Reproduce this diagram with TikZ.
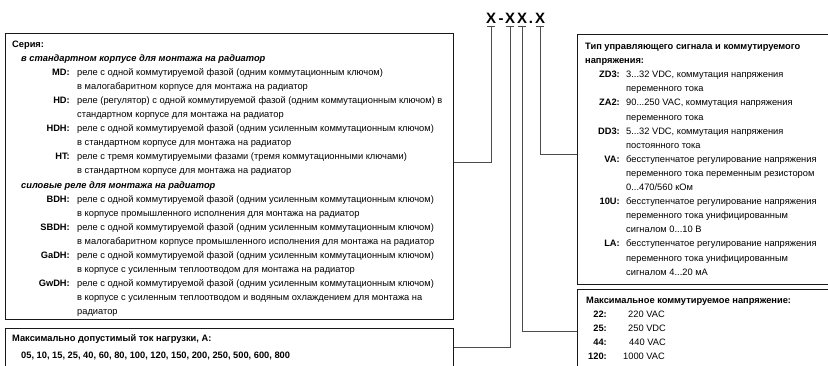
\documentclass[tikz,border=0pt]{standalone}
\usepackage{fontspec}
\setmainfont{Liberation Sans}
\begin{document}
\begin{tikzpicture}[x=1pt,y=-1pt,
  box/.style={draw=black!90, line width=0.9pt, rectangle, inner sep=0pt, anchor=north west},
  conn/.style={draw=black!70, line width=1pt},
  txt/.style={inner sep=0pt, anchor=base west, font=\fontsize{9.3}{11}\selectfont},
  lbl/.style={inner sep=0pt, anchor=base east, font=\bfseries\fontsize{9.3}{11}\selectfont},
  ttl/.style={inner sep=0pt, anchor=base west, font=\bfseries\fontsize{9.3}{11}\selectfont},
  sub/.style={inner sep=0pt, anchor=base west, font=\bfseries\itshape\fontsize{9.3}{11}\selectfont},
  code/.style={inner sep=0pt, anchor=base, font=\bfseries\fontsize{15}{17}\selectfont}]
\useasboundingbox (0,0) rectangle (828,365);

% boxes
\node[box, minimum width=448pt, minimum height=286pt] (serie) at (5,33) {};
\node[box, minimum width=448pt, minimum height=60pt] (load) at (5,328) {};
\node[box, minimum width=262pt, minimum height=250pt] (ctrl) at (577,34) {};
\node[box, minimum width=262pt, minimum height=90pt] (volt) at (577,289) {};

% code
\node[code] (x1) at (491,23) {X};
\node[code] (dsh) at (501,23) {-};
\node[code] (x2) at (510,23) {X};
\node[code] (x3) at (522,23) {X};
\node[code] (dt) at (531,23) {.};
\node[code] (x4) at (540,23) {X};

\coordinate (t1) at ([yshift=-3pt]x1.base);
\coordinate (t2) at ([yshift=-3pt]x2.base);
\coordinate (t3) at ([yshift=-3pt]x3.base);
\coordinate (t4) at ([yshift=-3pt]x4.base);
\foreach \t in {t1,t2,t3,t4} {\draw[conn] ([xshift=-4pt]\t) -- ([xshift=4pt]\t);}

\coordinate (k1) at (491,162);
\coordinate (k2) at (510,347);
\coordinate (k3) at (522,331);
\coordinate (k4) at (540,154);
\draw[conn] (t1) -- (k1) -- (k1 -| serie.east);
\draw[conn] (t2) -- (k2) -- (k2 -| load.east);
\draw[conn] (t3) -- (k3) -- (k3 -| volt.west);
\draw[conn] (t4) -- (k4) -- (k4 -| ctrl.west);

% left box 1
\node[ttl] (sT) at (12,47.5) {Серия:};
\node[sub] (s1) at (21,{47.5+14.05*1}) {в стандартном корпусе для монтажа на радиатор};
\node[sub] (s2) at (21,{47.5+14.05*10}) {силовые реле для монтажа на радиатор};
\foreach \i/\t in {2/MD:,4/HD:,6/HDH:,8/HT:,11/BDH:,13/SBDH:,15/GaDH:,17/GwDH:}
  {\node[lbl] (ll\i) at (70,{47.5+14.05*\i}) {\t};}
\foreach \i/\t in {
  2/{реле с одной коммутируемой фазой (одним коммутационным ключом)},
  3/{в малогабаритном корпусе для монтажа на радиатор},
  4/{реле (регулятор) с одной коммутируемой фазой (одним коммутационным ключом) в},
  5/{стандартном корпусе для монтажа на радиатор},
  6/{реле с одной коммутируемой фазой (одним усиленным коммутационным ключом)},
  7/{в стандартном корпусе для монтажа на радиатор},
  8/{реле с тремя коммутируемыми фазами (тремя коммутационными ключами)},
  9/{в стандартном корпусе для монтажа на радиатор},
  11/{реле с одной коммутируемой фазой (одним усиленным коммутационным ключом)},
  12/{в корпусе промышленного исполнения для монтажа на радиатор},
  13/{реле с одной коммутируемой фазой (одним усиленным коммутационным ключом)},
  14/{в малогабаритном корпусе промышленного исполнения для монтажа на радиатор},
  15/{реле с одной коммутируемой фазой (одним усиленным коммутационным ключом)},
  16/{в корпусе с усиленным теплоотводом для монтажа на радиатор},
  17/{реле с одной коммутируемой фазой (одним усиленным коммутационным ключом)},
  18/{в корпусе с усиленным теплоотводом и водяным охлаждением для монтажа на},
  19/{радиатор}}
  {\node[txt] (ld\i) at (77,{47.5+14.05*\i}) {\t};}

% left box 2
\node[ttl] (lT) at (12,341) {Максимально допустимый ток нагрузки, А:};
\node[ttl] (lV) at (21,358) {05, 10, 15, 25, 40, 60, 80, 100, 120, 150, 200, 250, 500, 600, 800};

% right box 1
\node[ttl] (cT1) at (585,49.5) {Тип управляющего сигнала и коммутируемого};
\node[ttl] (cT2) at (585,63.6) {напряжения:};
\foreach \i/\t in {2/ZD3:,4/ZA2:,6/DD3:,8/VA:,11/10U:,14/LA:}
  {\node[lbl] (cl\i) at (620,{49.5+14.1*\i}) {\t};}
\foreach \i/\t in {
  2/{3...32 VDC, коммутация напряжения},
  3/{переменного тока},
  4/{90...250 VAC, коммутация напряжения},
  5/{переменного тока},
  6/{5...32 VDC, коммутация напряжения},
  7/{постоянного тока},
  8/{бесступенчатое регулирование напряжения},
  9/{переменного тока переменным резистором},
  10/{0...470/560 кОм},
  11/{бесступенчатое регулирование напряжения},
  12/{переменного тока унифицированным},
  13/{сигналом 0...10 В},
  14/{бесступенчатое регулирование напряжения},
  15/{переменного тока унифицированным},
  16/{сигналом 4...20 мА}}
  {\node[txt] (cd\i) at (626,{49.5+14.1*\i}) {\t};}

% right box 2
\node[ttl] (vT) at (586,303) {Максимальное коммутируемое напряжение:};
\node[lbl] (vl1) at (607,317.3) {22:};
\node[lbl] (vl2) at (607,331.4) {25:};
\node[lbl] (vl3) at (607,345.5) {44:};
\node[lbl] (vl4) at (607,359.6) {120:};
\node[txt] (vd1) at (628,317.3) {220 VAC};
\node[txt] (vd2) at (628,331.4) {250 VDC};
\node[txt] (vd3) at (629,345.5) {440 VAC};
\node[txt] (vd4) at (623,359.6) {1000 VAC};
\end{tikzpicture}
\end{document}
